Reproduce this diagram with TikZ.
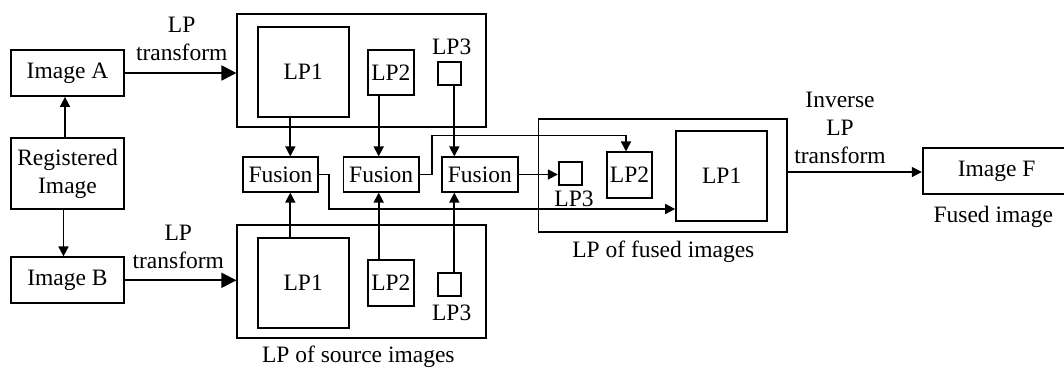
\documentclass[tikz,border=0pt]{standalone}
\usepackage{fontspec}
\setmainfont{Liberation Serif}
\newfontfamily\tnr{Liberation Serif}
\usetikzlibrary{arrows.meta}
\begin{document}
\begin{tikzpicture}[x=1pt,y=-1pt,
  every node/.style={font=\tnr\fontsize{23.5}{27.8}\selectfont, inner sep=0pt},
  box/.style={draw, line width=1.8pt},
  con/.style={line width=1.7pt},
  arr/.style={con, -{Triangle[length=10pt,width=10pt]}},
  bigarr/.style={con, -{Triangle[length=15pt,width=15pt]}}]
\useasboundingbox[fill=white] (0,0) rectangle (1064,370);

% left column
\node[box, minimum width=113.6pt, minimum height=46pt] (imgA) at (67.5,73) {Image A};
\node[box, minimum width=113.6pt, minimum height=71pt, align=center] (regImg) at (67.5,173.8) {Registered\\Image};
\node[box, minimum width=113.6pt, minimum height=46pt] (imgB) at (67.5,280.3) {Image B};

% source pyramids
\node[box, minimum width=248.7pt, minimum height=113pt] (topbox) at (361.7,70.8) {};
\node[box, minimum width=91pt, minimum height=90.6pt] (tLP1) at (303.2,72) {LP1};
\node[box, minimum width=45.7pt, minimum height=45.3pt] (tLP2) at (390.9,72.7) {LP2};
\node[box, minimum width=23pt, minimum height=23pt] (tLP3) at (449.8,73.5) {};
\node (tLP3l) at (451.7,46.7) {LP3};

\node[box, minimum width=248.7pt, minimum height=112.7pt] (botbox) at (361.7,281.3) {};
\node[box, minimum width=91pt, minimum height=90pt] (bLP1) at (303.2,282.7) {LP1};
\node[box, minimum width=45.7pt, minimum height=45.4pt] (bLP2) at (390.9,283) {LP2};
\node[box, minimum width=23pt, minimum height=23pt] (bLP3) at (449.8,284.2) {};
\node (bLP3l) at (451.7,313.3) {LP3};
\node (srcLbl) at (358.3,356.7) {LP of source images};

% fusion
\node[box, minimum width=75.6pt, minimum height=34.4pt] (F1) at (280.5,174.5) {Fusion};
\node[box, minimum width=75.6pt, minimum height=34.4pt] (F2) at (381.2,174.5) {Fusion};
\node[box, minimum width=75.6pt, minimum height=34.4pt] (F3) at (479.8,174.5) {Fusion};

% fused pyramid
\node[box, minimum width=248.8pt, minimum height=113.3pt] (fusedbox) at (662.9,175.7) {};
\node[box, minimum width=91.3pt, minimum height=90.3pt] (fLP1) at (721.7,176.2) {LP1};
\node[box, minimum width=45.6pt, minimum height=45.7pt] (fLP2) at (629.5,175.2) {LP2};
\node[box, minimum width=23.6pt, minimum height=22.7pt] (fLP3) at (570.5,173.3) {};
\node (fLP3l) at (574,199.3) {LP3};
\node (fusLbl) at (663.3,251.7) {LP of fused images};

% output
\node[box, minimum width=148pt, minimum height=45.7pt] (imgF) at (996.7,171.2) {Image F};
\node (fusedImg) at (993.3,217.3) {Fused image};

% labels
\node[align=center] (lblA) at (181.7,38.9) {LP\\transform};
\node[align=center] (lblB) at (178.3,247.2) {LP\\transform};
\node[align=center] (lblInv) at (840,128) {Inverse\\LP\\transform};

% helper coordinates
\coordinate (cRA) at (65,0);
\coordinate (cRB) at (63.5,0);
\coordinate (c1) at (290.3,0);
\coordinate (c2) at (378.7,0);
\coordinate (c3) at (454.3,0);
\coordinate (k1) at (329.3,209);
\coordinate (k2) at (431.7,135.5);
\coordinate (k2b) at (626,135.5);
\coordinate (yout) at (0,172);

% connectors
\draw[arr] (regImg.north -| cRA) -- (imgA.south -| cRA);
\draw[arr] (regImg.south -| cRB) -- (imgB.north -| cRB);
\draw[bigarr] (imgA.east) -- (imgA.east -| topbox.west);
\draw[bigarr] (imgB.east) -- (imgB.east -| botbox.west);
\draw[arr] (tLP1.south -| c1) -- (F1.north -| c1);
\draw[arr] (tLP2.south -| c2) -- (F2.north -| c2);
\draw[arr] (tLP3.south -| c3) -- (F3.north -| c3);
\draw[arr] (bLP1.north -| c1) -- (F1.south -| c1);
\draw[arr] (bLP2.north -| c2) -- (F2.south -| c2);
\draw[arr] (bLP3.north -| c3) -- (F3.south -| c3);
\draw[arr] (F1.east) -| (k1) -- (k1 -| fLP1.west);
\draw[arr] (F2.east) -| (k2) -- (k2b) -- (k2b |- fLP2.north);
\draw[arr] (F3.east) -- (F3.east -| fLP3.west);
\draw[arr] (fusedbox.east |- yout) -- (imgF.west |- yout);
\end{tikzpicture}
\end{document}
